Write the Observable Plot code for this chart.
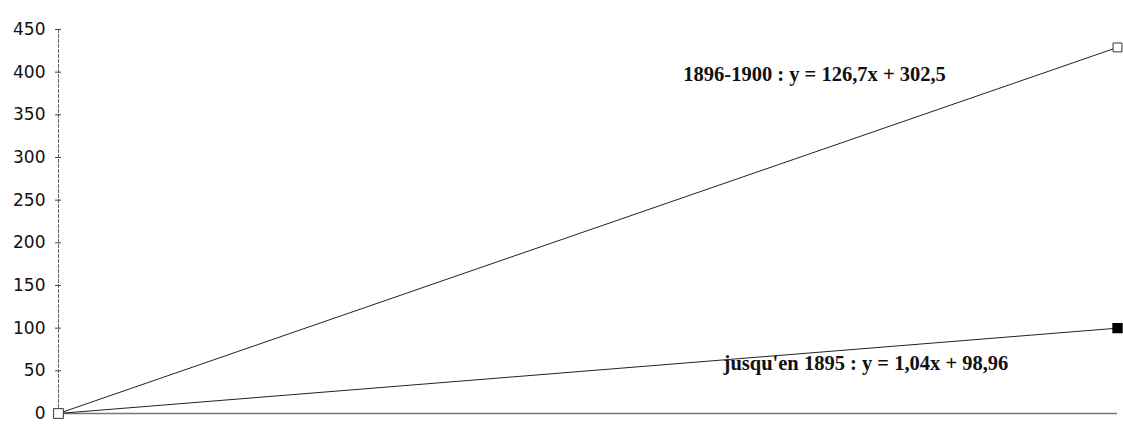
<!DOCTYPE html>
<html>
<head>
<meta charset="utf-8">
<script src="https://cdn.jsdelivr.net/npm/d3@7"></script>
<script src="https://cdn.jsdelivr.net/npm/@observablehq/plot@0.6"></script>
<style>
  html, body { margin: 0; padding: 0; background: #fff; }
</style>
</head>
<body>
<div id="chart"></div>
<script>
// Data
const xPoints = [0, 1];
const seriesNames = ["1896-1900", "jusqu'en 1895"];
const upperValues = [0, 429];
const lowerValues = [0, 100];
const yTicks = [0, 50, 100, 150, 200, 250, 300, 350, 400, 450];
const labelTexts = ["1896-1900 : y = 126,7x + 302,5", "jusqu'en 1895 : y = 1,04x + 98,96"];

const upper = xPoints.map((x, i) => ({x, y: upperValues[i], s: seriesNames[0]}));
const lower = xPoints.map((x, i) => ({x, y: lowerValues[i], s: seriesNames[1]}));

const chart = Plot.plot({
  width: 1123,
  height: 439,
  marginLeft: 58,
  marginRight: 6,
  marginTop: 29,
  marginBottom: 26,
  style: {fontFamily: "DejaVu Sans", fontSize: "17px", color: "#111", background: "#fff"},
  x: {domain: [0, 1], axis: null},
  y: {domain: [0, 450], ticks: yTicks, axis: null},
  marks: [
    Plot.ruleY([0], {stroke: "#777", strokeWidth: 1.5}),
    Plot.ruleX([0], {y1: 0, y2: 450, stroke: "#666", strokeWidth: 1, strokeDasharray: "4,1"}),
    Plot.axisY(yTicks, {anchor: "left", tickSize: 6, dx: 3, tickPadding: 10, stroke: "#444", fill: "#111", fontSize: 17, label: null}),
    Plot.line(upper, {x: "x", y: "y", stroke: "#222", strokeWidth: 1}),
    Plot.line(lower, {x: "x", y: "y", stroke: "#222", strokeWidth: 1}),
    Plot.dot([upper[0]], {x: "x", y: "y", symbol: "square", r: 5.5, stroke: "#333", fill: "#fff", strokeWidth: 1}),
    Plot.dot([upper[1]], {x: "x", y: "y", symbol: "square", r: 5, stroke: "#333", fill: "#fff", strokeWidth: 1}),
    Plot.dot([lower[1]], {x: "x", y: "y", symbol: "square", r: 5, stroke: "#000", fill: "#000"}),
    Plot.text([labelTexts[0]], {x: 0.59, y: 390, text: d => d, textAnchor: "start", lineAnchor: "bottom", fontFamily: "Liberation Serif", fontWeight: "bold", fontSize: 20.5, fill: "#111"}),
    Plot.text([labelTexts[1]], {x: 0.628, y: 50.4, text: d => d, textAnchor: "start", lineAnchor: "bottom", fontFamily: "Liberation Serif", fontWeight: "bold", fontSize: 20.5, fill: "#111"})
  ]
});
document.getElementById("chart").appendChild(chart);
</script>
</body>
</html>
